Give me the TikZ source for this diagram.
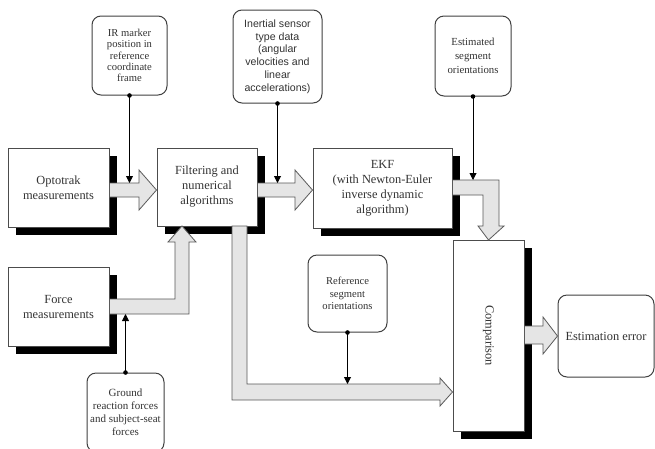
\documentclass[tikz,border=0pt]{standalone}
\usepackage{fontspec}
\setmainfont{Liberation Serif}
\newfontfamily\sansf{Liberation Sans}
\usetikzlibrary{shadows,arrows.meta}
\begin{document}
\begin{tikzpicture}[x=1pt,y=-1pt,
  bigbox/.style={draw=black!70, line width=1pt, fill=white, align=center, inner sep=0pt,
    general shadow={fill=black, shadow xshift=8pt, shadow yshift=-8pt},
    font=\fontsize{12.4}{15}\selectfont, text=black!80},
  softbox/.style={draw=black!75, line width=1pt, rounded corners=9pt, fill=white,
    align=center, inner sep=0pt, text=black!80},
  fat/.style={draw=black!65, line width=0.8pt, fill=black!10},
  feed/.style={line width=0.9pt, -{Triangle[length=7pt,width=7pt]}},
  dotc/.style={fill=black}
]
\useasboundingbox (0,0) rectangle (655,448);
\clip (0,0) rectangle (655,448);

% main boxes
\node[bigbox, minimum width=101pt, minimum height=79pt] (opt) at (58.5,187.5) {Optotrak\\measurements};
\node[bigbox, minimum width=100pt, minimum height=78pt] (filt) at (207,187) {Filtering and\\numerical\\algorithms};
\node[bigbox, minimum width=139pt, minimum height=80pt] (ekf) at (382.5,188) {EKF\\(with Newton-Euler\\inverse dynamic\\algorithm)};
\node[bigbox, minimum width=101pt, minimum height=79pt] (force) at (58.5,306.5) {Force\\measurements};
\node[bigbox, minimum width=71pt, minimum height=191pt] (comp) at (488.5,335.5) {};
\node[rotate=-90, font=\fontsize{12.4}{15}\selectfont, text=black!80] (comptxt) at (comp.center) {Comparison};

% rounded boxes
\node[softbox, minimum width=75pt, minimum height=79pt, font=\fontsize{10.6}{11.3}\selectfont] (ir) at (129.5,55.5) {IR marker\\position in\\reference\\coordinate\\frame};
\node[softbox, minimum width=89pt, minimum height=93pt, font=\sansf\fontsize{10.6}{12.8}\selectfont] (inert) at (277.5,56.5) {Inertial sensor\\type data\\(angular\\velocities and\\linear\\accelerations)};
\node[softbox, minimum width=76pt, minimum height=80pt, font=\fontsize{10.8}{14}\selectfont] (est) at (473,56) {Estimated\\segment\\orientations};
\node[softbox, minimum width=79pt, minimum height=77pt, font=\fontsize{10.6}{12.5}\selectfont] (ref) at (347.5,293.5) {Reference\\segment\\orientations};
\node[softbox, minimum width=77pt, minimum height=79pt, font=\fontsize{11}{13}\selectfont] (ground) at (125.5,412.5) {Ground\\reaction forces\\and subject-seat\\forces};
\node[softbox, minimum width=96pt, minimum height=82pt, font=\fontsize{12.4}{15}\selectfont] (err) at (606,336) {Estimation error};

% fat grey arrows
\draw[fat] (opt.east |- 0,183) -- (139,183) -- (139,170) -- (filt.west |- 0,190) -- (139,210) -- (139,197) -- (opt.east |- 0,197) -- cycle;
\draw[fat] (filt.east |- 0,183) -- (295,183) -- (295,170) -- (ekf.west |- 0,190) -- (295,210) -- (295,197) -- (filt.east |- 0,197) -- cycle;
\draw[fat] (ekf.east |- 0,180) -- (499,180) -- (499,226) -- (504,226) -- (comp.north |- 0,240) -- (478,226) -- (483,226) -- (483,195) -- (ekf.east |- 0,195) -- cycle;
\draw[fat] (force.east |- 0,299) -- (175,299) -- (175,242) -- (168,242) -- (182,226) -- (196,242) -- (189,242) -- (189,314) -- (force.east |- 0,314) -- cycle;
\draw[fat] (232,226) -- (247,226) -- (247,384) -- (440,384) -- (440,378) -- (comp.west |- 0,392) -- (440,406) -- (440,400) -- (232,400) -- cycle;
\draw[fat] (comp.east |- 0,326) -- (543,326) -- (543,317) -- (err.west |- 0,336) -- (543,354) -- (543,344) -- (comp.east |- 0,344) -- cycle;

% thin feed arrows
\coordinate (irT) at (ir.south |- 0,183);
\coordinate (inT) at (inert.south |- 0,183);
\coordinate (esT) at (est.south |- 0,180);
\coordinate (rfT) at (ref.south |- 0,384);
\coordinate (grT) at (ground.north |- 0,314);
\draw[feed] (ir.south) -- (irT);
\draw[feed] (inert.south) -- (inT);
\draw[feed] (est.south) -- (esT);
\draw[feed] (ref.south) -- (rfT);
\draw[feed] (ground.north) -- (grT);
\foreach \n/\a in {ir/south,inert/south,est/south,ref/south,ground/north}
  \fill[dotc] (\n.\a) circle (2.3pt);
\end{tikzpicture}
\end{document}
